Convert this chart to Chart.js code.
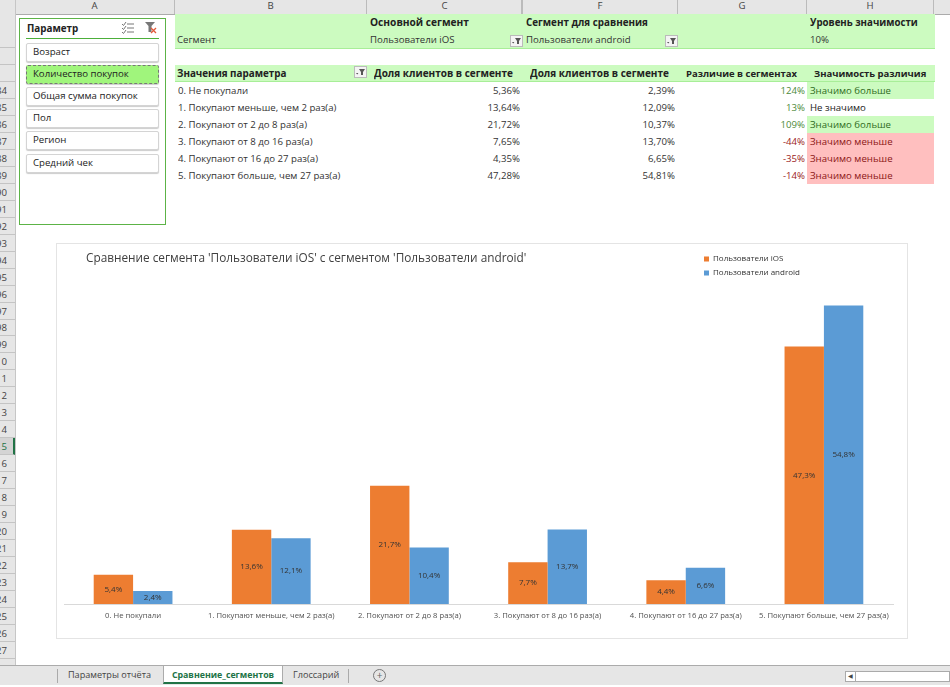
<!DOCTYPE html>
<html lang="ru"><head><meta charset="utf-8">
<script src="https://cdn.jsdelivr.net/npm/chart.js@4"></script>
<style>
html,body{margin:0;padding:0;background:#fff;overflow:hidden}
body{width:950px;height:687px;position:relative;font-family:"Open Sans",sans-serif;font-size:9.65px;color:#333}
.a{position:absolute;white-space:nowrap;line-height:17px;overflow:hidden}
.b{font-weight:700;color:#222;font-size:9.85px}
#card{position:absolute;left:57px;top:244px;width:850px;height:394px;box-shadow:0 0 0 1px #e4e4e4}
canvas{display:block}
svg{display:block}
</style></head><body>
<div id="sheet"></div>
<div id="card"><canvas id="c" width="850" height="394"></canvas></div>
<script>
const categories=["0. Не покупали","1. Покупают меньше, чем 2 раз(а)","2. Покупают от 2 до 8 раз(а)","3. Покупают от 8 до 16 раз(а)","4. Покупают от 16 до 27 раз(а)","5. Покупают больше, чем 27 раз(а)"];
const iosValues=[5.36,13.64,21.72,7.65,4.351,47.28];
const androidValues=[2.39,12.09,10.37,13.70,6.649,54.81];
const diffValues=["124%","13%","109%","-44%","-35%","-14%"];
const signifValues=["Значимо больше","Не значимо","Значимо больше","Значимо меньше","Значимо меньше","Значимо меньше"];
const slicerItems=["Возраст","Количество покупок","Общая сумма покупок","Пол","Регион","Средний чек"];
const chartTitle="Сравнение сегмента 'Пользователи iOS' с сегментом 'Пользователи android'";
const seriesNames=["Пользователи iOS","Пользователи android"];
const sheetTabs=["Параметры отчёта","Сравнение_сегментов","Глоссарий"];
const rowLabels=["","","","84","85","86","87","88","89","90","91","92","93","94","95","96","97","98","99","0","1","2","3","4","5","6","7","8","9","20","21","22","23","24","25","26","27"];

const sheet=document.getElementById('sheet');
function box(x,y,w,h,css,text,cls){const d=document.createElement('div');d.className='a '+(cls||'');
 d.style.cssText=`left:${x}px;top:${y}px;width:${w}px;height:${h}px;${css||''}`;if(text!=null)d.textContent=text;sheet.appendChild(d);return d;}
const comma=s=>s.replace('.',',');
// Excel chrome
box(0,0,950,14,'background:#e6e6e6;border-bottom:1px solid #ababab');
box(0,0,15,665,'background:#e6e6e6;border-right:1px solid #c6c6c6');
[[15,175,"A"],[175,367,"B"],[367,523,"C"],[523,678,"F"],[678,807,"G"],[807,934,"H"]].forEach(c=>{
 box(c[0],0,c[1]-c[0]-1,14,'text-align:center;line-height:12px;color:#444;border-right:1px solid #bbb',c[2]);});
box(521,0,1,14,'background:#bbb');
rowLabels.forEach((n,i)=>{const y=31+i*16.97;const act=i===24;
 box(0,y,15,17,'border-bottom:1px solid #c4c4c4;box-sizing:border-box;'+(act?'background:#d4d4d4;border-right:2px solid #217346;':''));
 if(n)box(0,y,7,17,'direction:rtl;text-align:right;color:'+(act?'#217346':'#444'),n);});
// slicer
box(19,18,145,205,'border:1px solid #5cb346');
box(27,19,100,19,'line-height:19px','Параметр','b');
box(26,38,133,1,'background:#4caf3a');
box(121,21,14,13,'','').innerHTML='<svg width="14" height="13" stroke="#777" fill="none" stroke-width="1"><path d="M1 3l1.5 1.5L5 1M1 7l1.5 1.5L5 5M1 11l1.5 1.5L5 9M6 3h7M6 7h7M6 11h7"/></svg>';
box(144,20,14,14,'','').innerHTML='<svg width="14" height="14"><path d="M1 2h10L7.5 6v6h-3V6z" fill="#777"/><path d="M7 8l5 5M12 8l-5 5" stroke="#e2583a" stroke-width="1.3"/></svg>';
slicerItems.forEach((t,i)=>{const y=43+i*22.1,act=i===1;
 box(26,y,131,17,'border:1px solid '+(act?'#777;border-style:dashed':'#d4d4d4')+';border-radius:2px;background:'+(act?'#a0f57c':'#fff')+';line-height:16px;text-indent:6px;box-shadow:0 1px 1px #ccc;color:#222',t);});
// header bands
box(175,14,760,34,'background:#ccfbc0;border-bottom:1px solid #a8ee98;box-sizing:content-box');
box(370,14,140,17,'font-size:10.2px',"Основной сегмент",'b');box(526,14,150,17,'',"Сегмент для сравнения",'b');box(810,14,120,17,'font-size:9.7px',"Уровень значимости",'b');
box(177,31,100,17,'',"Сегмент");box(370,31,130,17,'',seriesNames[0]);box(526,31,130,17,'',seriesNames[1]);box(810,31,60,17,'',"10%");
box(175,65,760,16,'background:#ccfbc0;border-bottom:1px solid #a8ee98');
box(177,65,170,17,'',"Значения параметра",'b');
box(374,65,145,17,'font-size:10px',"Доля клиентов в сегменте",'b');
box(530,65,145,17,'font-size:10px',"Доля клиентов в сегменте",'b');
box(686,65,120,17,'font-size:9.5px',"Различие в сегментах",'b');
box(814,65,120,17,'font-size:9.5px',"Значимость различия",'b');
const filt='<svg width="11" height="10"><path d="M4 2h6L8 5v3H6V5z" fill="#555"/><path d="M1 6h2.4L2.2 7.6z" fill="#555"/></svg>';
[[354,66],[510,35],[665,35]].forEach(p=>{box(p[0],p[1],13,12,'background:#f4f4f4;border:1px solid #bbb;box-sizing:border-box','').innerHTML=filt;});
categories.forEach((c,i)=>{const y=82+i*17;const neg=diffValues[i][0]==='-';const sig=signifValues[i];
 box(178,y,185,17,'',c);
 box(400,y,120,17,'text-align:right',comma(iosValues[i].toFixed(2))+'%');
 box(555,y,120,17,'text-align:right',comma(androidValues[i].toFixed(2))+'%');
 box(700,y,105,17,'text-align:right;color:'+(neg?'#9c1c1c':'#4d8a3a'),diffValues[i]);
 const bg=sig==='Значимо больше'?'#ccfbc0':sig==='Значимо меньше'?'#ffbfbf':'#fff';
 const fg=sig==='Значимо больше'?'#2f6b22':sig==='Значимо меньше'?'#8c1616':'#222';
 box(807,y,127,17,`background:${bg};color:${fg};text-indent:3px`,sig);});
// tab bar
box(0,665,950,20,'background:#e6e6e6;border-top:1px solid #ababab;box-sizing:border-box');
box(0,685,950,2,'background:#fff');
box(57,669,1,14,'background:#aaa');box(348,669,1,14,'background:#aaa');
box(68,666,90,18,'line-height:18px;color:#444;font-size:9.1px',sheetTabs[0]);
box(163,665,120,19,'background:#fff;border:1px solid #ababab;border-bottom:2px solid #217346;box-sizing:border-box;text-align:center;line-height:18px;font-weight:700;font-size:8.8px;color:#217346',sheetTabs[1]);
box(293,666,50,18,'line-height:18px;color:#444;font-size:9.1px',sheetTabs[2]);
box(373,669,11,11,'border:1px solid #777;border-radius:50%;text-align:center;line-height:10px;color:#666;font-size:10px','+');
box(845,671,105,11,'background:#fff;border:1px solid #aaa;box-sizing:border-box');
box(846,672,9,9,'border-right:1px solid #aaa;font-size:6px;line-height:9px;text-align:center;color:#444','◀');

const barLabels={id:'barLabels',afterDatasetsDraw(chart){const g=chart.ctx;g.save();
 g.font='8px "Open Sans"';g.fillStyle='#333';g.textAlign='center';g.textBaseline='middle';
 chart.data.datasets.forEach((ds,d)=>chart.getDatasetMeta(d).data.forEach((bar,i)=>{
  g.fillText(ds.data[i].toFixed(1).replace('.',',')+'%',bar.x,(bar.y+bar.base)/2);}));
 g.restore();}};
const place={id:'place',afterLayout(chart){
 const t=chart.titleBlock,l=chart.legend;
 if(t){const w=t.right-t.left;t.left=29;t.right=29+w;}
 if(l){const w=l.right-l.left;l.left=641;l.right=641+w;const h=l.bottom-l.top;l.top=5;l.bottom=5+h;}
}};
new Chart(document.getElementById('c'),{type:'bar',
 data:{labels:categories,datasets:[
  {label:seriesNames[0],data:iosValues,backgroundColor:'#ed7d31'},
  {label:seriesNames[1],data:androidValues,backgroundColor:'#5b9bd5'}]},
 plugins:[barLabels,place],
 options:{responsive:false,animation:false,devicePixelRatio:1,
  layout:{padding:{left:7,right:14,top:0,bottom:0}},
  datasets:{bar:{categoryPercentage:0.57,barPercentage:1}},
  plugins:{
   title:{display:true,text:chartTitle,align:'start',color:'#404040',font:{family:'"Open Sans"',size:11.8,weight:'400'},padding:{top:8,bottom:10}},
   legend:{position:'chartArea',align:'start',labels:{boxWidth:5,boxHeight:5,padding:6,color:'#333',font:{family:'"Open Sans"',size:8}}},
   tooltip:{enabled:false}},
  scales:{
   x:{grid:{display:false,drawTicks:false},border:{color:'#d9d9d9'},afterFit:s=>{s.height=34;},
      ticks:{autoSkip:false,maxRotation:0,padding:7,color:'#505050',font:{family:'"Open Sans"',size:7.7}}},
   y:{display:false,min:0,max:60.2}}}});
</script></body></html>
